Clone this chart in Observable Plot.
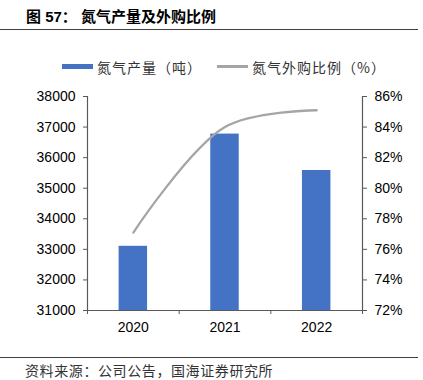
<!DOCTYPE html>
<html><head><meta charset="utf-8">
<script src="https://cdn.jsdelivr.net/npm/d3@7"></script>
<script src="https://cdn.jsdelivr.net/npm/@observablehq/plot@0.6"></script>
<style>
body{margin:0;background:#fff;}
#wrap{position:relative;width:423px;height:380px;overflow:hidden;background:#fff;}
#title{position:absolute;left:26px;top:8px;font:bold 15px "Liberation Sans","Noto Sans CJK SC",sans-serif;color:#000;white-space:pre;line-height:18px;}
#tline{position:absolute;left:0;top:29px;width:418px;height:1px;background:#404040;}
.lg{position:absolute;top:58px;font:14px "Noto Sans CJK SC",sans-serif;letter-spacing:1px;color:#333;white-space:nowrap;line-height:18px;}
.sw{position:absolute;}
#chart{position:absolute;left:0;top:80px;}
#fline{position:absolute;left:0;top:357px;width:418px;height:1px;background:#404040;}
#source{position:absolute;left:25px;top:361px;font:14px "Noto Sans CJK SC",sans-serif;letter-spacing:0.6px;color:#333;white-space:nowrap;line-height:18px;}
</style></head>
<body>
<div id="wrap">
  <div id="title">图 57： 氮气产量及外购比例</div>
  <div id="tline"></div>
  <div class="sw" style="left:62px;top:64px;width:31px;height:5px;background:#4472C4"></div>
  <div class="lg" style="left:97px">氮气产量（吨）</div>
  <div class="sw" style="left:217px;top:65px;width:31px;height:3px;background:#A5A5A5"></div>
  <div class="lg" style="left:252px">氮气外购比例（%）</div>
  <div id="chart"></div>
  <div id="fline"></div>
  <div id="source">资料来源：公司公告，国海证券研究所</div>
</div>
<script>
const years = [2020, 2021, 2022];
const output = [33100, 36770, 35580];      // 氮气产量（吨）
const ratio = [77.1, 84.0, 85.1];           // 氮气外购比例（%）
const leftTicks = [31000, 32000, 33000, 34000, 35000, 36000, 37000, 38000];
const rightTicks = [72, 74, 76, 78, 80, 82, 84, 86];

const data = years.map((y, i) => ({year: y, output: output[i], ratio: ratio[i]}));
// map right-axis percent onto the left-axis scale
const toLeft = p => 31000 + (p - 72) * 500;
const fromLeft = v => Math.round((v - 31000) / 500 + 72);

const axisColor = "#595959";
const chart = Plot.plot({
  width: 423,
  height: 260,
  marginTop: 16,
  marginBottom: 30,
  marginLeft: 87,
  marginRight: 61,
  style: {fontFamily: "'Liberation Sans', Arial, sans-serif", fontSize: "14px", color: "#000", background: "transparent"},
  x: {domain: [2019.5, 2022.5]},
  y: {domain: [31000, 38000]},
  marks: [
    Plot.rectY(data, {x1: d => d.year - 0.5, x2: d => d.year + 0.5, y1: 31000, y2: "output", fill: "#4472C4", insetLeft: 31.6, insetRight: 31.6}),
    Plot.lineY(data, {x: "year", y: d => toLeft(d.ratio), stroke: "#A5A5A5", strokeWidth: 2.3, curve: "catmull-rom"}),
    Plot.ruleX([2019.5, 2022.5], {stroke: axisColor, strokeWidth: 1.2}),
    Plot.ruleY([31000], {stroke: axisColor, strokeWidth: 1.2}),
    Plot.axisY({ticks: leftTicks, tickSize: 4, tickPadding: 8, tickFormat: d => String(d), label: null, stroke: axisColor, fill: "#000"}),
    Plot.axisY({anchor: "right", ticks: rightTicks.map(toLeft), tickSize: 4, tickPadding: 8, tickFormat: v => fromLeft(v) + "%", label: null, stroke: axisColor, fill: "#000"}),
    Plot.axisX({ticks: years, tickSize: 0, tickPadding: 12, tickFormat: d => String(d), label: null, fill: "#000"}),
    Plot.axisX({ticks: [2019.5, 2020.5, 2021.5, 2022.5], tickSize: 4, tickFormat: () => "", label: null, stroke: axisColor})
  ]
});
document.getElementById("chart").appendChild(chart);
</script>
</body></html>
